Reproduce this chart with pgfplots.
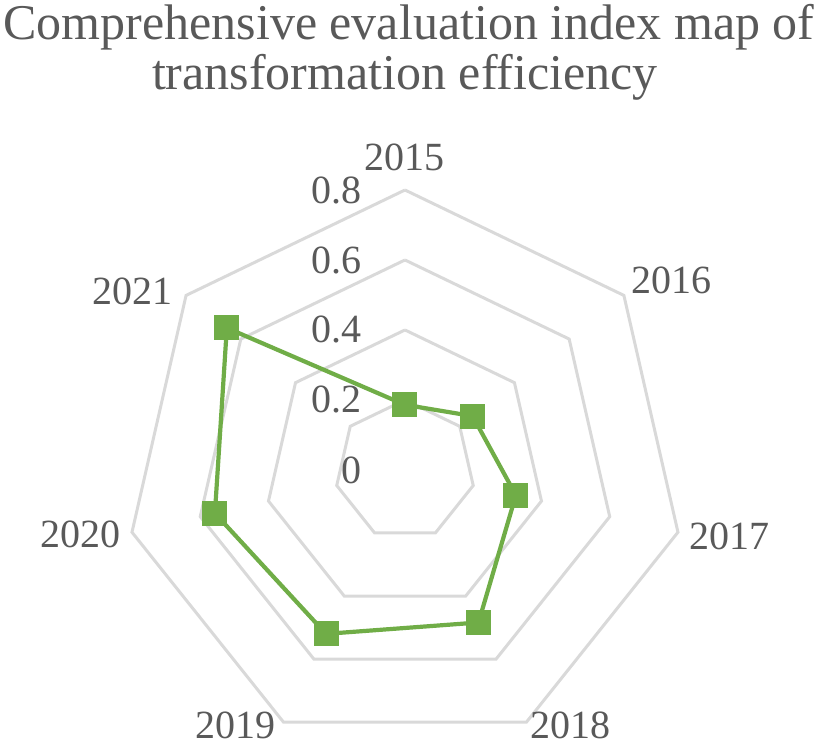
\documentclass[border=0pt]{standalone}
\usepackage{fontspec}
\setmainfont{Liberation Serif}
\usepackage{pgfplots}
\pgfplotsset{compat=1.18}
\usepgfplotslibrary{polar}
\definecolor{ringgray}{HTML}{D9D9D9}
\definecolor{txtgray}{HTML}{595959}
\definecolor{seriesgreen}{HTML}{70AD47}

\begin{document}
\begin{tikzpicture}
\begin{axis}[
    width=409pt, height=373pt,
    scale only axis,
    xmin=-1.157, xmax=1.180,
    ymin=-0.789, ymax=1.343,
    hide axis,
    clip=false,
]
\path (rel axis cs:0,0) rectangle (rel axis cs:1,1);

% heptagon rings (angle, radius)
\addplot[data cs=polar, ringgray, line width=1.5pt, mark=none] coordinates {
    (90,0.2) (38.571,0.2) (-12.857,0.2) (-64.286,0.2) (-115.714,0.2) (-167.143,0.2) (-218.571,0.2) (90,0.2)};
\addplot[data cs=polar, ringgray, line width=1.5pt, mark=none] coordinates {
    (90,0.4) (38.571,0.4) (-12.857,0.4) (-64.286,0.4) (-115.714,0.4) (-167.143,0.4) (-218.571,0.4) (90,0.4)};
\addplot[data cs=polar, ringgray, line width=1.5pt, mark=none] coordinates {
    (90,0.6) (38.571,0.6) (-12.857,0.6) (-64.286,0.6) (-115.714,0.6) (-167.143,0.6) (-218.571,0.6) (90,0.6)};
\addplot[data cs=polar, ringgray, line width=1.5pt, mark=none] coordinates {
    (90,0.8) (38.571,0.8) (-12.857,0.8) (-64.286,0.8) (-115.714,0.8) (-167.143,0.8) (-218.571,0.8) (90,0.8)};

% series: 2015 ... 2021
\addplot[data cs=polar, seriesgreen, line width=2.1pt, mark=square*,
    mark size=6pt, mark options={fill=seriesgreen, draw=seriesgreen, line width=0.5pt}] coordinates {
    (90,0.186) (38.571,0.247) (-12.857,0.325) (-64.286,0.484)
    (-115.714,0.520) (-167.143,0.557) (-218.571,0.651) (90,0.186)};

% value labels
\begin{scope}[every node/.style={font=\fontsize{20}{24}\selectfont, text=txtgray, inner sep=0pt, anchor=east}]
\node at (axis cs:-0.123,0) {0};
\node at (axis cs:-0.123,0.2) {0.2};
\node at (axis cs:-0.123,0.4) {0.4};
\node at (axis cs:-0.123,0.6) {0.6};
\node at (axis cs:-0.123,0.8) {0.8};
\end{scope}

% category labels
\begin{scope}[every node/.style={font=\fontsize{20}{24}\selectfont, text=txtgray, inner sep=0pt, anchor=base}]
\node at (axis cs:0,0.857) {2015};
\node at (axis cs:0.762,0.503) {2016};
\node at (axis cs:0.926,-0.226) {2017};
\node at (axis cs:0.474,-0.768) {2018};
\node at (axis cs:-0.483,-0.768) {2019};
\node at (axis cs:-0.927,-0.223) {2020};
\node at (axis cs:-0.779,0.474) {2021};
\end{scope}

% title
\begin{scope}[every node/.style={font=\fontsize{25}{30}\selectfont, text=txtgray, inner sep=0pt, anchor=base}]
\node at (axis cs:0.011,1.229) {Comprehensive evaluation index map of};
\node at (axis cs:0,1.086) {transformation efficiency};
\end{scope}
\end{axis}
\end{tikzpicture}
\end{document}
